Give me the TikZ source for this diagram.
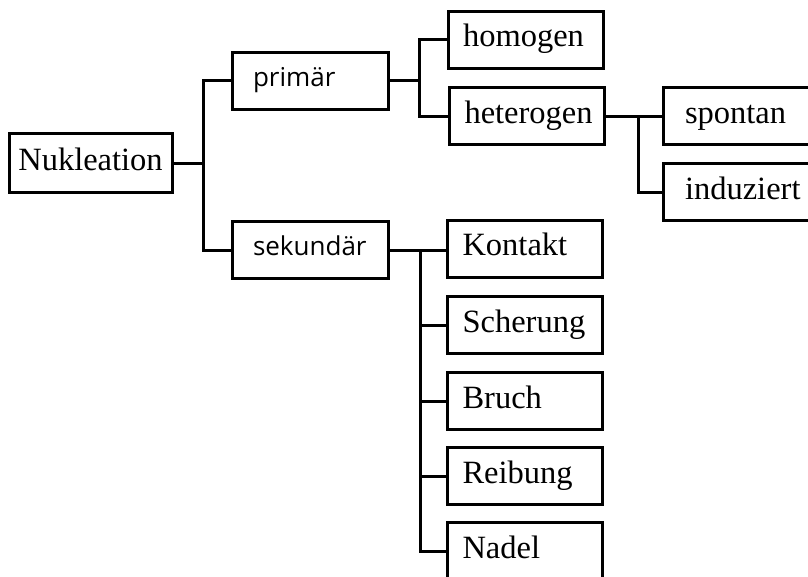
\documentclass[tikz,border=0pt]{standalone}
\usepackage{fontspec}
\setmainfont{Liberation Serif}
\newfontfamily\boxsans{Open Sans}
\begin{document}
\begin{tikzpicture}[x=1pt,y=-1pt,
  box/.style={draw, line width=3pt, inner sep=0pt, minimum height=57pt},
  ser/.style={box, font=\fontsize{32.5}{38}\selectfont, text height=22pt, text depth=8pt},
  san/.style={box, font=\boxsans\fontsize{26}{30}\selectfont, text height=17.5pt, text depth=6pt,
              minimum width=156pt, text width=114pt, align=left},
  rbox/.style={ser, minimum width=155pt, text width=125pt, align=left},
  fbox/.style={ser, minimum width=155pt, text width=111pt, align=left},
  lnk/.style={line width=3pt}]
\useasboundingbox (0,0) rectangle (808,576);
% nodes
\node[ser, minimum width=163pt, minimum height=59pt] (nuk) at (90.5,163) {Nukleation};
\node[san] (pri) at (310,80.5) {primär};
\node[san] (sek) at (310,250) {sekundär};
\node[rbox] (hom) at (525.5,39.5) {homogen};
\node[rbox] (het) at (527,116) {heterogen};
\node[fbox] (spo) at (740.5,116) {spontan};
\node[fbox] (ind) at (740.5,192) {induziert};
\node[rbox] (kon) at (525,248.5) {Kontakt};
\node[rbox] (sch) at (525,325) {Scherung};
\node[rbox] (bru) at (525,401) {Bruch};
\node[rbox] (rei) at (525,476) {Reibung};
\node[rbox] (nad) at (525,551) {Nadel};
% connectors
\draw[lnk] (nuk.east) -- ++(30,0) coordinate (j1);
\draw[lnk] (pri.west) -| (j1);
\draw[lnk] (sek.west) -| (j1);
\draw[lnk] (pri.east) -- ++(30,0) coordinate (j2);
\draw[lnk] (hom.west) -| (j2);
\draw[lnk] (het.west) -| (j2);
\draw[lnk] (het.east) -- (spo.west);
\path (het.east) -- ++(32,0) coordinate (j3);
\draw[lnk] (ind.west) -| (j3);
\draw[lnk] (sek.east) -- (kon.west |- sek.east);
\path (sek.east) -- ++(31,0) coordinate (j4);
\draw[lnk] (nad.west) -| (j4);
\draw[lnk] (sch.west) -- (sch.west -| j4);
\draw[lnk] (bru.west) -- (bru.west -| j4);
\draw[lnk] (rei.west) -- (rei.west -| j4);
\end{tikzpicture}
\end{document}
